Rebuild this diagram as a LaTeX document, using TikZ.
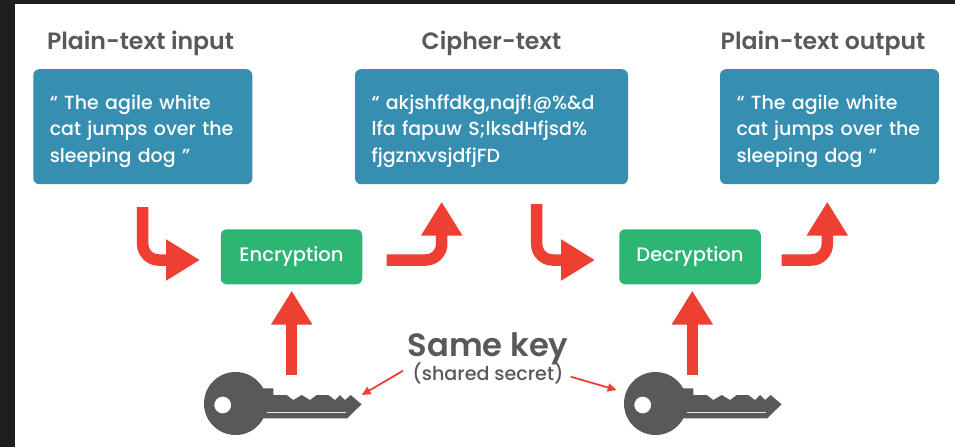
\documentclass[tikz,border=0pt]{standalone}
\usepackage{fontspec}
\setmainfont{Poppins}[UprightFont={* Medium},BoldFont={* SemiBold}]
\usetikzlibrary{arrows.meta}
\definecolor{bgdark}{HTML}{1E1E1E}
\definecolor{boxblue}{HTML}{368FB1}
\definecolor{boxgreen}{HTML}{2CB573}
\definecolor{arrred}{HTML}{EE3F33}
\definecolor{keygrey}{HTML}{58595B}
\tikzset{
  x=1pt,y=-1pt,
  bluebox/.style={fill=boxblue,rounded corners=6pt,text=white,align=left,inner sep=0pt,
    minimum height=115pt,font=\fontsize{19}{26.5}\selectfont},
  greenbox/.style={fill=boxgreen,rounded corners=6pt,text=white,inner sep=0pt,
    minimum width=141.5pt,minimum height=55pt,font=\fontsize{19.5}{22}\selectfont},
  heading/.style={text=keygrey,inner sep=0pt,font=\fontsize{23.6}{26}\selectfont\bfseries},
  bigarrow/.style={draw=arrred,line width=11.5pt,rounded corners=16pt,
    -{Triangle[length=34pt,width=39pt,fill=arrred]}},
  thinarrow/.style={draw=arrred,line width=1.8pt,-{Triangle[length=9pt,width=8pt,fill=arrred]}},
  keypart/.style={fill=keygrey},
}
\newcommand{\firstline}{\rule{0pt}{23pt}}
\newcommand{\keyshape}[1]{%
  \begin{scope}[shift={(#1,0)}]
    \fill[keypart,even odd rule] (235.5,403.5) circle[radius=31.5pt] (222.7,405) circle[radius=8.5pt];
    \fill[keypart] (260,388.3) -- (273.3,388.3) -- (273.3,395) -- (286.7,395) -- (293.3,400) -- (301.7,395) -- (310,400)
      -- (316.7,395) -- (328.3,395) -- (335,400) -- (340,395) -- (345,400) -- (350.7,395)
      -- (361.5,404.3) -- (347.3,418.3) -- (260,418.3) -- cycle;
    \draw[white!85!keygrey,line width=1.4pt] (266.7,412.3) -- (346,412.3);
  \end{scope}}
\begin{document}
\begin{tikzpicture}
\useasboundingbox (0,0) rectangle (955,447);
\fill[bgdark] (0,0) rectangle (955,447);
\fill[white] (15,4) rectangle (955,447);

\node[heading,anchor=base] (h1) at (140.5,49) {Plain-text input};
\node[heading,anchor=base] (h2) at (491.5,49) {Cipher-text};
\node[heading,anchor=base] (h3) at (823,49) {Plain-text output};

\node[bluebox,minimum width=219pt,text width=186pt] (b1) at (142.8,126.7)
  {\firstline “ The agile white\\cat jumps over the\\sleeping dog ”};
\node[bluebox,minimum width=273pt,text width=240pt] (b2) at (491.5,126.7)
  {\firstline “ akjshffdkg,najf!@\%\&d\\lfa fapuw S;lksdHfjsd\%\\fjgznxvsjdfjFD};
\node[bluebox,minimum width=219pt,text width=186pt] (b3) at (829.5,126.7)
  {\firstline “ The agile white\\cat jumps over the\\sleeping dog ”};

\node[greenbox] (enc) at (291.5,256.8) {Encryption};
\node[greenbox] (dec) at (690,256.8) {Decryption};

\keyshape{0}
\keyshape{420}
\coordinate (k1) at (291.7,375);
\coordinate (k2) at (692.3,375);
\coordinate (k1e) at (361.7,395);
\coordinate (k2e) at (616.7,390);

\node[text=keygrey,inner sep=0pt,anchor=base,font=\fontsize{32.2}{34}\selectfont\bfseries] (same) at (488,356) {Same key};
\node[text=keygrey,inner sep=0pt,anchor=base,font=\fontsize{19.1}{20}\selectfont] (shared) at (488,380) {(shared secret)};

% bent arrows
\coordinate (a1s) at (142.7,207);
\coordinate (a1c) at (142.7,260);
\coordinate (a1e) at (200,260);
\draw[bigarrow] (a1s) -- (a1c) -- (a1e);
\coordinate (a2s) at (386.7,260);
\coordinate (a2c) at (441.7,260);
\coordinate (a2e) at (441.7,201.7);
\draw[bigarrow] (a2s) -- (a2c) -- (a2e);
\coordinate (a3s) at (536.7,204);
\coordinate (a3c) at (536.7,260);
\coordinate (a3e) at (595,260);
\draw[bigarrow] (a3s) -- (a3c) -- (a3e);
\coordinate (a4s) at (781.7,260);
\coordinate (a4c) at (827.3,260);
\coordinate (a4e) at (827.3,201.7);
\draw[bigarrow] (a4s) -- (a4c) -- (a4e);
% key arrows
\coordinate (e1) at (291.7,290.7);
\coordinate (e2) at (692.3,290.7);
\draw[bigarrow] (k1) -- (e1);
\draw[bigarrow] (k2) -- (e2);
% thin arrows
\coordinate (s1) at (403,370.7);
\coordinate (s2) at (570.7,376.7);
\draw[thinarrow] (s1) -- (k1e);
\draw[thinarrow] (s2) -- (k2e);
\end{tikzpicture}
\end{document}
